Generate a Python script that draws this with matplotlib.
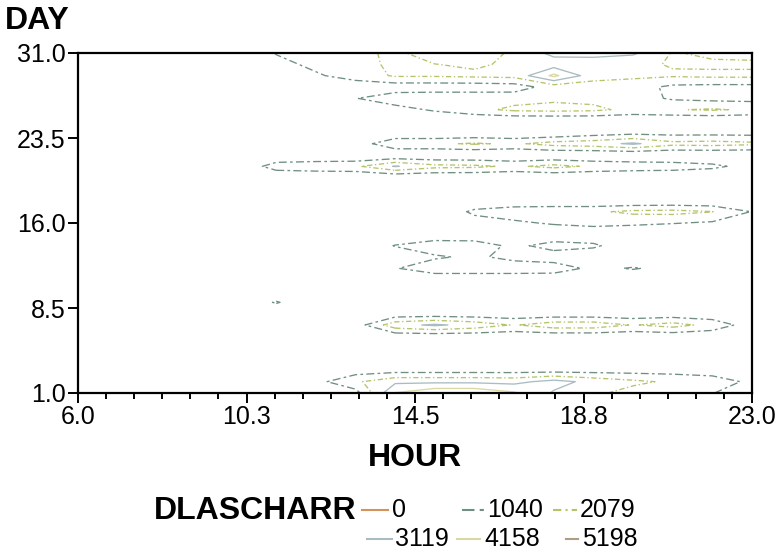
import matplotlib
matplotlib.use('Agg')
import matplotlib.pyplot as plt
import numpy as np
from matplotlib.lines import Line2D
from matplotlib.ticker import AutoMinorLocator

# ---------------- data ----------------
hours = list(range(6, 24))          # HOUR grid (columns)
days = list(range(1, 32))           # DAY grid (rows)

# DLASCHARR values, one row per day, one value per hour 6..23
dlascharr = [
    [0, 0, 0, 0, 0, 0, 0, 600, 4200, 5000, 5000, 4300, 3000, 2300, 1700, 1500, 1100, 0],      # 1
    [0, 0, 0, 0, 0, 0, 700, 1900, 2900, 2900, 2900, 2800, 3500, 2800, 2300, 1900, 1600, 800], # 2
    [0, 0, 0, 0, 0, 0, 0, 500, 600, 600, 600, 600, 600, 600, 600, 600, 500, 0],               # 3
    [0] * 18,                                                                                 # 4
    [0] * 18,                                                                                 # 5
    [0, 0, 0, 0, 0, 0, 0, 0, 320, 320, 320, 320, 320, 320, 320, 320, 320, 0],                 # 6
    [0, 0, 0, 0, 0, 0, 0, 500, 2750, 3300, 2750, 2000, 2700, 2700, 2000, 2500, 1700, 500],    # 7
    [0, 0, 0, 0, 0, 0, 0, 0, 320, 320, 320, 320, 320, 320, 320, 320, 320, 0],                 # 8
    [0, 0, 0, 0, 0, 1150, 0, 0, 0, 0, 0, 0, 0, 0, 0, 0, 0, 0],                                # 9
    [0] * 18,                                                                                 # 10
    [0] * 18,                                                                                 # 11
    [0, 0, 0, 0, 0, 0, 0, 0, 950, 1900, 1900, 1900, 1800, 700, 1150, 600, 0, 0],              # 12
    [0, 0, 0, 0, 0, 0, 0, 0, 300, 850, 1300, 600, 300, 0, 0, 0, 0, 0],                        # 13
    [0, 0, 0, 0, 0, 0, 0, 0, 1100, 1900, 1800, 700, 1600, 1300, 0, 0, 0, 0],                  # 14
    [0] * 18,                                                                                 # 15
    [0, 0, 0, 0, 0, 0, 0, 0, 0, 0, 500, 800, 1200, 1500, 1300, 1100, 900, 700],               # 16
    [0, 0, 0, 0, 0, 0, 0, 0, 0, 0, 1300, 1800, 1900, 1900, 2300, 2400, 2100, 1000],           # 17
    [0] * 18,                                                                                 # 18
    [0] * 18,                                                                                 # 19
    [0] * 18,                                                                                 # 20
    [0, 0, 0, 0, 0, 1600, 1800, 1900, 3200, 2400, 2300, 1900, 2400, 1900, 1700, 1600, 1300, 600],  # 21
    [0] * 18,                                                                                 # 22
    [0, 0, 0, 0, 0, 0, 0, 400, 1900, 1900, 2200, 1900, 2500, 2700, 3300, 2400, 2500, 2300],   # 23
    [0, 0, 0, 0, 0, 0, 0, 0, 0, 0, 0, 0, 0, 400, 600, 600, 600, 600],                         # 24
    [0] * 18,                                                                                 # 25
    [0, 0, 0, 0, 0, 0, 0, 0, 600, 1200, 1800, 2300, 2400, 2300, 1800, 2000, 2200, 1900],      # 26
    [0, 0, 0, 0, 0, 0, 0, 1000, 1700, 1800, 1800, 1700, 1900, 1800, 1500, 900, 700, 700],     # 27
    [0, 0, 0, 0, 0, 0, 300, 400, 400, 400, 400, 500, 1500, 1600, 1500, 800, 700, 700],        # 28
    [0, 0, 0, 0, 0, 0, 900, 1500, 2200, 2200, 2300, 2400, 4400, 2500, 2300, 2200, 2300, 2300],# 29
    [0, 0, 0, 0, 0, 700, 1300, 1700, 2300, 2100, 1900, 2300, 2600, 2500, 2300, 2000, 1900, 1900],  # 30
    [0, 0, 0, 0, 0, 1100, 1500, 1800, 2300, 1500, 1400, 2300, 3400, 3500, 3300, 2000, 2300, 2400], # 31
]

levels = [0, 1040, 2079, 3119, 4158, 5198]
level_labels = ['0', '1040', '2079', '3119', '4158', '5198']
x_ticks = [6.0, 10.25, 14.5, 18.75, 23.0]
x_tick_labels = ['6.0', '10.3', '14.5', '18.8', '23.0']
y_ticks = [1.0, 8.5, 16.0, 23.5, 31.0]
y_tick_labels = ['1.0', '8.5', '16.0', '23.5', '31.0']

# ---------------- style ----------------
colors = ['#D4925C', '#6F8F80', '#B4C46A', '#A9BCC4', '#D9D9A6', '#B09C84']
styles = ['solid', (0, (6, 2.5, 2, 2.5)), (0, (4, 2, 1, 2)), 'solid', 'solid', 'solid']

W, H = 778, 555
plt.rcParams['font.family'] = ['Liberation Sans', 'DejaVu Sans']
fig = plt.figure(figsize=(W / 100, H / 100), dpi=100)

def fx(px):
    return px / W

def fy(py):
    return 1 - py / H

ax = fig.add_axes([fx(78), fy(393), (752 - 78) / W, (393 - 53) / H])

Z = np.array(dlascharr, dtype=float)
for lev, col, sty in zip(levels[1:], colors[1:], styles[1:]):
    cs = ax.contour(hours, days, Z, levels=[lev], colors=[col], linewidths=0.95)
    cs.set_linestyle(sty)

ax.set_xlim(6, 23)
ax.set_ylim(1, 31)
ax.set_xticks(x_ticks)
ax.set_xticklabels(x_tick_labels)
ax.set_yticks(y_ticks)
ax.set_yticklabels(y_tick_labels)
ax.xaxis.set_minor_locator(AutoMinorLocator(6))
ax.tick_params(which='major', direction='out', length=7, width=1.4,
               labelsize=18, pad=2, colors='black')
ax.tick_params(axis='x', which='minor', direction='out', length=4, width=1.4)
ax.tick_params(axis='y', which='minor', left=False)
for sp in ax.spines.values():
    sp.set_linewidth(1.6)
    sp.set_color('black')

fig.text(fx(5), fy(21), 'DAY', fontsize=23, fontweight='bold', ha='left', va='center')
fig.text(fx(415), fy(458), 'HOUR', fontsize=23, fontweight='bold', ha='center', va='center')
fig.text(fx(356), fy(511), 'DLASCHARR', fontsize=23, fontweight='bold', ha='right', va='center')

# legend entries (line start, line end, text x, row y) in pixels
leg_pos = [(362, 388, 392, 510), (462, 484, 487, 510), (553, 577, 580, 510),
           (367, 392, 395, 539), (457, 480, 484, 539), (566, 578, 582, 539)]
for (x1, x2, xt, yy), col, sty, lab in zip(leg_pos, colors, styles, level_labels):
    fig.add_artist(Line2D([fx(x1), fx(x2)], [fy(yy), fy(yy)], transform=fig.transFigure,
                          color=col, linestyle=sty, linewidth=1.5))
    fig.text(fx(xt), fy(yy), lab, fontsize=18, ha='left', va='center')

fig.savefig('out.png', dpi=100)
